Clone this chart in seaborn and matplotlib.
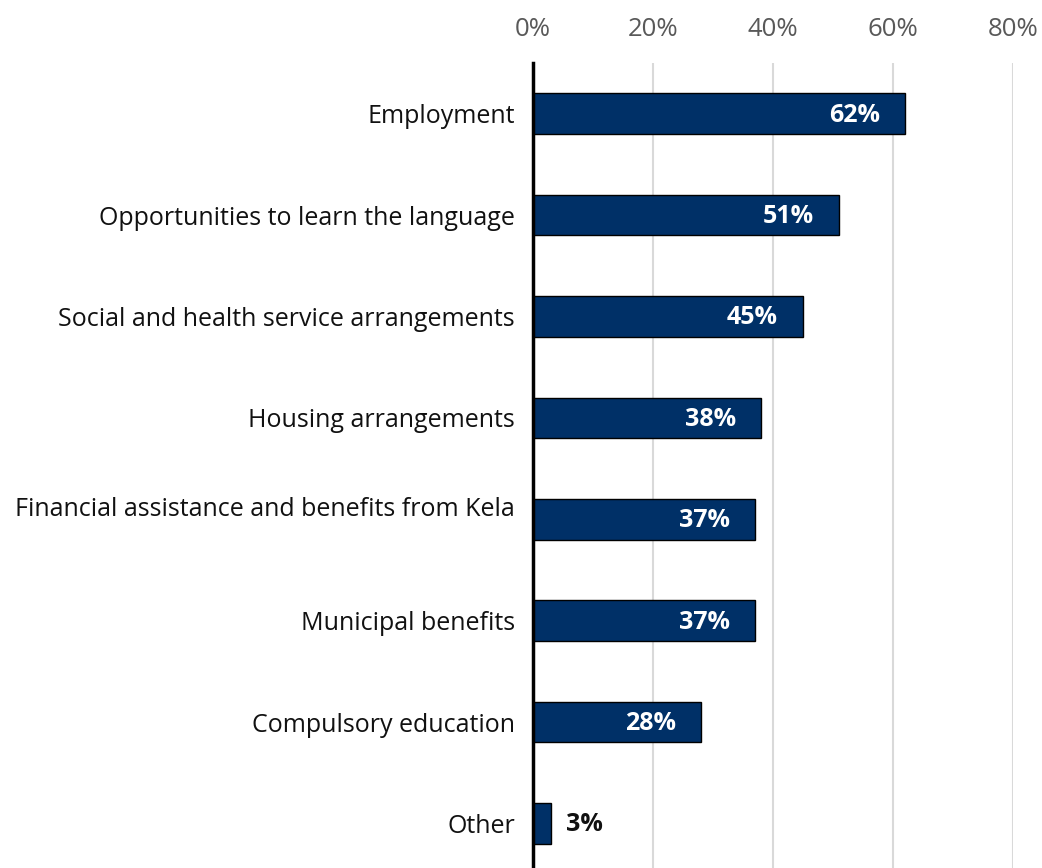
import matplotlib
matplotlib.use("Agg")
import matplotlib.pyplot as plt
import seaborn as sns
import pandas as pd

categories = [
    "Employment",
    "Opportunities to learn the language",
    "Social and health service arrangements",
    "Housing arrangements",
    "Financial assistance and benefits from Kela\n",
    "Municipal benefits",
    "Compulsory education",
    "Other",
]
values = [62, 51, 45, 38, 37, 37, 28, 3]
x_ticks = [0, 20, 40, 60, 80]
x_tick_labels = ["0%", "20%", "40%", "60%", "80%"]

sns.set_theme(style="white")
plt.rcParams["font.family"] = ["Open Sans", "DejaVu Sans"]

df = pd.DataFrame({"category": categories, "value": values})

fig = plt.figure(figsize=(10.42, 8.68), dpi=100)
ax = fig.add_axes([533 / 1042, 0.0, (1013 - 533) / 1042, 1 - 63 / 868])

sns.barplot(data=df, y="category", x="value", orient="h", color="#003067",
            saturation=1, width=0.4, edgecolor="black", linewidth=1, ax=ax)

ax.set_xlim(0, 80)
ax.set_ylim(7.44, -0.5)
ax.set_xticks(x_ticks)
ax.set_xticklabels(x_tick_labels)
ax.xaxis.tick_top()
ax.tick_params(axis="x", length=0, pad=15, labelsize=18.5, labelcolor="#595959")
ax.tick_params(axis="y", length=0, pad=13, labelsize=18, labelcolor="#111111")
ax.set_xlabel("")
ax.set_ylabel("")

ax.grid(axis="x", color="#d9d9d9", linewidth=1.5)
ax.set_axisbelow(True)
for side in ["top", "right", "bottom"]:
    ax.spines[side].set_visible(False)
ax.spines["left"].set_color("black")
ax.spines["left"].set_linewidth(2.5)
ax.spines["left"].set_zorder(5)

# Value labels: inside the bar end in white, outside for very short bars
for i, v in enumerate(values):
    if v >= 10:
        ax.annotate(f"{v}%", xy=(v, i), xytext=(-18, -1), textcoords="offset points",
                    ha="right", va="center", color="white", fontsize=18, fontweight="bold")
    else:
        ax.annotate(f"{v}%", xy=(v, i), xytext=(11, -1), textcoords="offset points",
                    ha="left", va="center", color="#111111", fontsize=18, fontweight="bold")

fig.savefig("out.png", dpi=100)
